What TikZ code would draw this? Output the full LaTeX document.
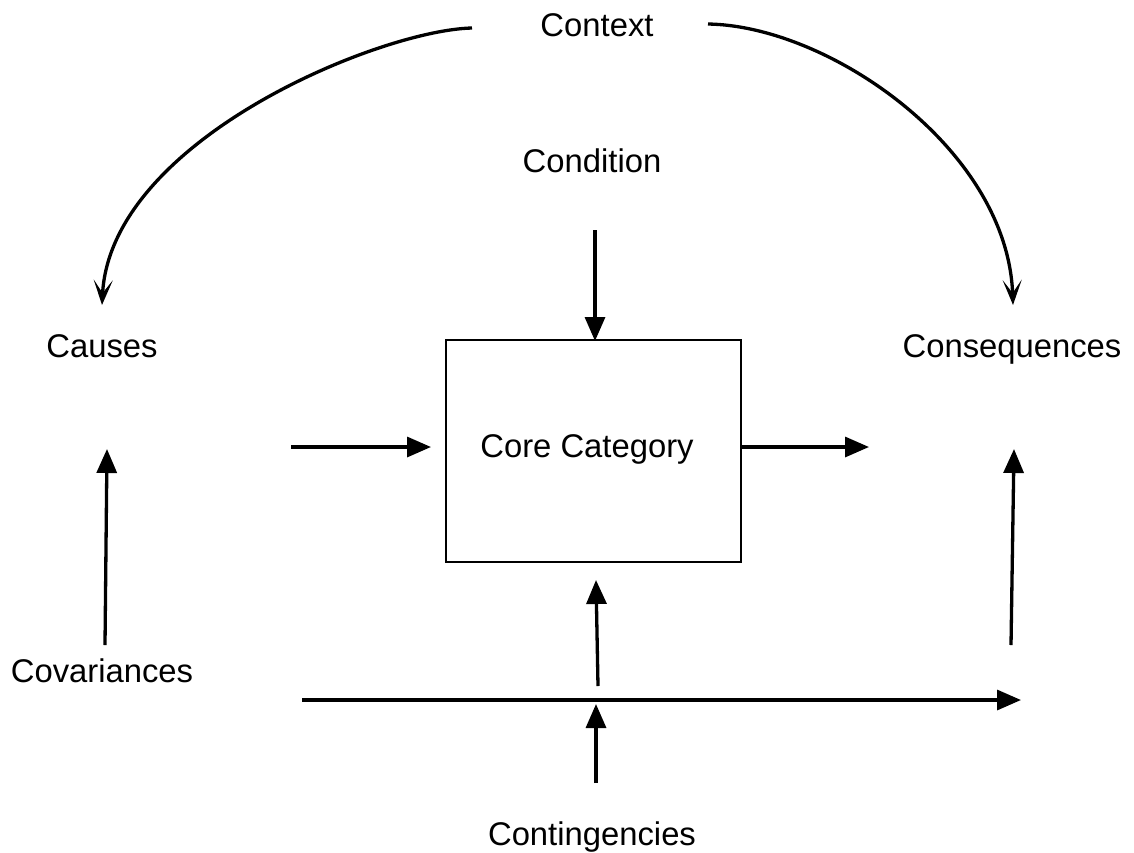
\documentclass[tikz,border=0pt]{standalone}
\usepackage{fontspec}
\setmainfont{Liberation Sans}
\usetikzlibrary{arrows.meta}
\begin{document}
\begin{tikzpicture}[x=1pt,y=-1pt,
  lbl/.style={inner sep=0pt,anchor=base,font=\fontsize{32.8}{39}\selectfont},
  sarrow/.style={line width=3.3pt,-{Triangle[length=24pt,width=20pt]}},
  carrow/.style={line width=3.3pt,-{Stealth[length=25pt,width=19pt,inset=13pt]}}]
\useasboundingbox (0,0) rectangle (1134,852);
% labels
\node[lbl] (context) at (597,36) {Context};
\node[lbl] (condition) at (592,172.5) {Condition};
\node[lbl] (causes) at (102,357.5) {Causes};
\node[lbl] (consequences) at (1012,357.5) {Consequences};
\node[lbl] (covariances) at (102,682.5) {Covariances};
\node[lbl] (contingencies) at (592,845) {Contingencies};
% core box
\node[draw,line width=1.8pt,minimum width=295pt,minimum height=222pt,inner sep=0pt] (core) at (593.5,451) {};
\node[lbl] (corelbl) at (587,457) {Core Category};
% arrow end coordinates
\coordinate (cl1) at (472,28);
\coordinate (cl2) at (102,305);
\coordinate (cr1) at (708,24);
\coordinate (cr2) at (1013,305);
\coordinate (cd1) at (595,230);
\coordinate (cd2) at (595,341);
\coordinate (h1a) at (291,447);
\coordinate (h1b) at (431,447);
\coordinate (h2a) at (742,447);
\coordinate (h2b) at (869,447);
\coordinate (ca1) at (105,645);
\coordinate (ca2) at (107,449);
\coordinate (cq1) at (1011,645);
\coordinate (cq2) at (1014,449);
\coordinate (b1) at (302,700);
\coordinate (b2) at (1021,700);
\coordinate (ct1) at (596,783);
\coordinate (ct2) at (596,704);
\coordinate (m1) at (598,686);
\coordinate (m2) at (596,580);
% connectors
\draw[carrow] (cl1) .. controls (380,30) and (110,140) .. (cl2);
\draw[carrow] (cr1) .. controls (830,26) and (1008,150) .. (cr2);
\draw[sarrow] (cd1) -- (cd2);
\draw[sarrow] (h1a) -- (h1b);
\draw[sarrow] (h2a) -- (h2b);
\draw[sarrow] (ca1) -- (ca2);
\draw[sarrow] (cq1) -- (cq2);
\draw[sarrow] (b1) -- (b2);
\draw[sarrow] (ct1) -- (ct2);
\draw[sarrow] (m1) -- (m2);
\end{tikzpicture}
\end{document}
